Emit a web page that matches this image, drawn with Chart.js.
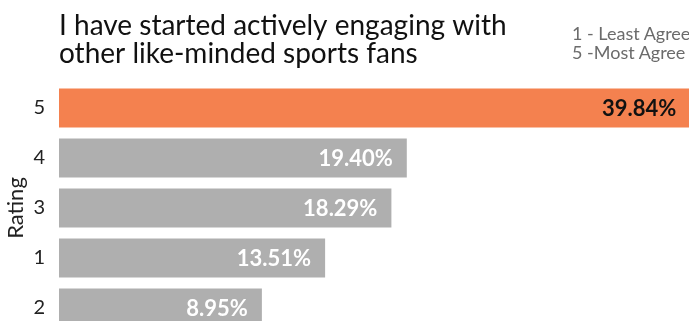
<!DOCTYPE html>
<html>
<head>
<meta charset="utf-8">
<script src="https://cdn.jsdelivr.net/npm/chart.js@4.4.1/dist/chart.umd.min.js"></script>
<style>
  html, body { margin: 0; padding: 0; background: #fff; overflow: hidden; }
  #wrap { position: relative; width: 689px; height: 333px; }
  #note { position: absolute; left: 572px; top: 24px; font-family: Lato, sans-serif; font-size: 18px; line-height: 19px; color: #6b6b6b; white-space: nowrap; }
</style>
</head>
<body>
<div id="wrap">
  <canvas id="c" width="689" height="333"></canvas>
  <div id="note">1 - Least Agree<br>5 -Most Agree</div>
</div>
<script>
const titleLines = ['I have started actively engaging with', 'other like-minded sports fans'];
const categories = ['5', '4', '3', '1', '2'];
const values = [39.84, 19.40, 18.29, 13.51, 8.95];
const barColors = ['#F4814F', '#AFAFAF', '#AFAFAF', '#AFAFAF', '#AFAFAF'];
const labelColors = ['#111111', '#ffffff', '#ffffff', '#ffffff', '#ffffff'];
const axisMin = -5.68;
const axisMax = 39.75;

const valueLabels = {
  id: 'valueLabels',
  afterDatasetsDraw(chart) {
    const ctx = chart.ctx;
    const meta = chart.getDatasetMeta(0);
    ctx.save();
    ctx.font = 'bold 22px Lato';
    ctx.textAlign = 'right';
    ctx.textBaseline = 'middle';
    meta.data.forEach((bar, i) => {
      ctx.fillStyle = labelColors[i];
      ctx.fillText(values[i].toFixed(2) + '%', bar.x - 14, bar.y + 1);
    });
    ctx.restore();
  }
};

new Chart(document.getElementById('c'), {
  type: 'bar',
  data: {
    labels: categories,
    datasets: [{
      data: values,
      backgroundColor: barColors,
      base: axisMin,
      barPercentage: 0.78,
      categoryPercentage: 1.0,
      borderWidth: 0
    }]
  },
  options: {
    indexAxis: 'y',
    responsive: false,
    animation: false,
    events: [],
    layout: { padding: 0 },
    plugins: {
      legend: { display: false },
      tooltip: { enabled: false },
      title: {
        display: true,
        text: titleLines,
        align: 'start',
        fullSize: false,
        color: '#111111',
        font: { family: 'Lato', size: 28, weight: 'normal', lineHeight: 1.0 },
        padding: { top: 12, bottom: 15 }
      }
    },
    scales: {
      x: {
        display: false,
        min: axisMin,
        max: axisMax
      },
      y: {
        grid: { display: false, drawTicks: false },
        border: { display: false },
        ticks: {
          color: '#222222',
          padding: 14,
          font: { family: 'Lato', size: 20 }
        },
        title: {
          display: true,
          text: 'Rating',
          color: '#222222',
          font: { family: 'Lato', size: 22 },
          padding: { top: 3, bottom: 0 }
        },
        afterFit(scale) {
          scale.width = 59;
          scale.paddingTop = 0;
          scale.paddingBottom = 0;
        }
      }
    }
  },
  plugins: [valueLabels]
});
</script>
</body>
</html>
